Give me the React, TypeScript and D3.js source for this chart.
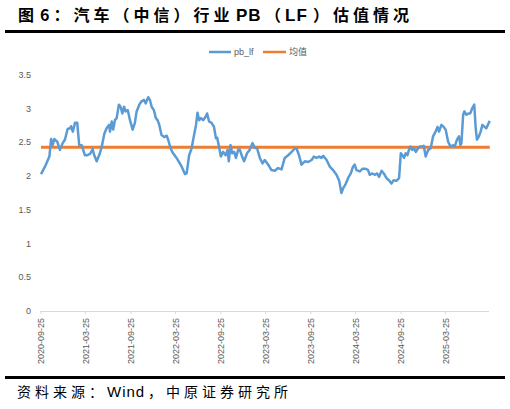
import * as d3 from 'd3';

// pb_lf readings (dates approximate)
const dates: string[] = [
  '2020-09-25', '2020-10-11', '2020-10-29', '2020-11-05', '2020-11-11', '2020-11-18', '2020-11-30', '2020-12-11',
  '2020-12-22', '2020-12-31', '2021-01-11', '2021-01-21', '2021-01-25', '2021-02-01', '2021-02-10', '2021-02-19',
  '2021-02-27', '2021-03-09', '2021-03-22', '2021-04-01', '2021-04-12', '2021-04-23', '2021-04-29', '2021-05-09',
  '2021-05-22', '2021-05-29', '2021-06-09', '2021-06-18', '2021-06-28', '2021-07-02', '2021-07-09', '2021-07-15',
  '2021-07-22', '2021-07-29', '2021-08-07', '2021-08-14', '2021-08-21', '2021-08-28', '2021-09-03', '2021-09-12',
  '2021-09-21', '2021-10-02', '2021-10-11', '2021-10-18', '2021-10-29', '2021-11-07', '2021-11-17', '2021-11-24',
  '2021-12-04', '2021-12-11', '2021-12-18', '2021-12-27', '2022-01-04', '2022-01-11', '2022-01-18', '2022-01-27',
  '2022-02-07', '2022-02-17', '2022-02-23', '2022-03-05', '2022-03-13', '2022-03-29', '2022-04-19', '2022-05-02',
  '2022-05-09', '2022-05-19', '2022-05-29', '2022-06-07', '2022-06-16', '2022-06-22', '2022-06-29', '2022-07-06',
  '2022-07-15', '2022-07-25', '2022-07-31', '2022-08-08', '2022-08-18', '2022-08-28', '2022-09-05', '2022-09-10',
  '2022-09-17', '2022-09-25', '2022-10-04', '2022-10-14', '2022-10-22', '2022-10-27', '2022-11-03', '2022-11-10',
  '2022-11-18', '2022-11-25', '2022-12-04', '2022-12-11', '2022-12-20', '2022-12-28', '2023-01-09', '2023-01-20',
  '2023-01-31', '2023-02-10', '2023-02-19', '2023-03-02', '2023-03-13', '2023-03-22', '2023-04-05', '2023-04-18',
  '2023-05-02', '2023-05-15', '2023-05-29', '2023-06-11', '2023-06-25', '2023-07-09', '2023-07-22', '2023-07-29',
  '2023-08-08', '2023-08-18', '2023-09-01', '2023-09-14', '2023-09-28', '2023-10-07', '2023-10-18', '2023-10-29',
  '2023-11-07', '2023-11-14', '2023-11-28', '2023-12-11', '2023-12-24', '2024-01-07', '2024-01-18', '2024-01-27',
  '2024-02-03', '2024-02-14', '2024-02-23', '2024-03-05', '2024-03-14', '2024-03-21', '2024-03-28', '2024-04-11',
  '2024-04-22', '2024-05-05', '2024-05-14', '2024-05-21', '2024-06-01', '2024-06-10', '2024-06-20', '2024-06-28',
  '2024-07-08', '2024-07-17', '2024-07-28', '2024-08-07', '2024-08-17', '2024-08-26', '2024-09-06', '2024-09-17',
  '2024-09-24', '2024-10-01', '2024-10-07', '2024-10-14', '2024-10-21', '2024-10-27', '2024-11-02', '2024-11-09',
  '2024-11-16', '2024-11-24', '2024-12-03', '2024-12-10', '2024-12-19', '2024-12-26', '2025-01-03', '2025-01-13',
  '2025-01-23', '2025-02-02', '2025-02-12', '2025-02-20', '2025-02-26', '2025-03-08', '2025-03-17', '2025-03-25',
  '2025-04-04', '2025-04-11', '2025-04-17', '2025-04-24', '2025-05-01', '2025-05-10', '2025-05-18', '2025-05-24',
  '2025-05-28', '2025-06-04', '2025-06-09', '2025-06-17', '2025-06-25', '2025-07-03', '2025-07-11', '2025-07-19',
  '2025-07-25', '2025-07-30', '2025-08-07', '2025-08-14', '2025-08-21', '2025-08-30', '2025-09-06', '2025-09-16',
  '2025-09-20',
];

const pbLf: number[] = [
  2.03, 2.14, 2.29, 2.55, 2.46, 2.55, 2.51, 2.39,
  2.49, 2.54, 2.70, 2.71, 2.74, 2.66, 2.79, 2.79,
  2.46, 2.46, 2.31, 2.31, 2.33, 2.40, 2.31, 2.22,
  2.34, 2.43, 2.63, 2.71, 2.76, 2.66, 2.81, 2.69,
  2.83, 2.86, 3.06, 3.03, 2.93, 3.03, 2.96, 2.98,
  2.83, 2.69, 2.79, 2.96, 3.06, 3.11, 3.13, 3.08,
  3.17, 3.13, 3.03, 2.98, 2.86, 2.83, 2.76, 2.61,
  2.58, 2.60, 2.54, 2.41, 2.35, 2.27, 2.14, 2.03,
  2.04, 2.31, 2.41, 2.59, 2.76, 2.94, 2.83, 2.86,
  2.83, 2.88, 2.93, 2.81, 2.79, 2.73, 2.56, 2.57,
  2.44, 2.29, 2.36, 2.31, 2.39, 2.22, 2.46, 2.34,
  2.36, 2.27, 2.39, 2.39, 2.29, 2.22, 2.34, 2.39,
  2.49, 2.42, 2.41, 2.27, 2.19, 2.24, 2.17, 2.09,
  2.08, 2.12, 2.10, 2.27, 2.31, 2.36, 2.41, 2.41,
  2.31, 2.17, 2.22, 2.21, 2.24, 2.29, 2.27, 2.29,
  2.27, 2.30, 2.24, 2.14, 2.09, 2.02, 1.93, 1.75,
  1.82, 1.89, 1.97, 2.04, 2.14, 2.17, 2.09, 2.07,
  2.11, 2.11, 2.09, 2.02, 2.04, 2.02, 2.04, 1.99,
  2.08, 2.04, 1.97, 1.94, 1.89, 1.94, 1.93, 1.97,
  2.34, 2.31, 2.27, 2.34, 2.31, 2.39, 2.44, 2.39,
  2.41, 2.36, 2.41, 2.44, 2.44, 2.45, 2.29, 2.39,
  2.41, 2.59, 2.66, 2.73, 2.66, 2.76, 2.73, 2.69,
  2.51, 2.46, 2.44, 2.46, 2.44, 2.54, 2.59, 2.46,
  2.49, 2.91, 2.96, 2.91, 2.93, 2.93, 3.01, 3.06,
  2.71, 2.54, 2.59, 2.66, 2.76, 2.73, 2.71, 2.79,
  2.82,
];

const meanValue = 2.43;
const yTicks: number[] = [0, 0.5, 1, 1.5, 2, 2.5, 3, 3.5];
const xTickLabels: string[] = [
  '2020-09-25', '2021-03-25', '2021-09-25', '2022-03-25', '2022-09-25',
  '2023-03-25', '2023-09-25', '2024-03-25', '2024-09-25', '2025-03-25',
];
const seriesNames: string[] = ['pb_lf', '均值'];

const W = 510;
const H = 409;
const BLUE = '#5B9BD5';
const ORANGE = '#ED7D31';
const CJK = '"Noto Sans CJK SC", "Liberation Sans", sans-serif';
const LATIN = '"Liberation Sans", "Noto Sans CJK SC", sans-serif';

export default function App() {
  const parse = d3.timeParse('%Y-%m-%d');
  const x = d3.scaleTime()
    .domain([parse('2020-09-25') as Date, parse('2025-09-25') as Date])
    .range([41, 491]);
  const y = d3.scaleLinear().domain([0, 3.5]).range([311, 75]);

  const points = dates.map((d, i) => ({ date: parse(d) as Date, v: pbLf[i] }));
  const line = d3.line<{ date: Date; v: number }>()
    .x((d) => x(d.date))
    .y((d) => y(d.v));

  const first = points[0].date;
  const last = points[points.length - 1].date;

  return (
    <svg width={W} height={H} style={{ position: 'absolute', left: 0, top: 0, background: '#fff' }}>
      {/* title */}
      <text y={21} fontFamily={CJK} fontWeight={700} fontSize={16} fill="#000" letterSpacing={4}>
        <tspan x={18}>图</tspan>
        <tspan x={40}>6：汽车（中信）行业</tspan>
        <tspan x={236} fontFamily={LATIN} fontSize={17} letterSpacing={1}>PB</tspan>
        <tspan x={265}>（</tspan>
        <tspan x={285} fontFamily={LATIN} fontSize={17} letterSpacing={1}>LF</tspan>
        <tspan x={313}>）估值情况</tspan>
      </text>
      <rect x={5} y={30} width={500} height={3} fill="#000" />

      {/* legend */}
      <line x1={209} x2={231} y1={52} y2={52} stroke={BLUE} strokeWidth={2.5} />
      <text x={234} y={55} fontFamily={LATIN} fontSize={9} fill="#595959">{seriesNames[0]}</text>
      <line x1={263} x2={286} y1={52} y2={52} stroke={ORANGE} strokeWidth={2.5} />
      <text x={289} y={55} fontFamily={CJK} fontSize={9} fill="#595959">{seriesNames[1]}</text>

      {/* y axis labels */}
      {yTicks.map((t) => (
        <text key={t} x={31} y={y(t) + 3} textAnchor="end" fontFamily={LATIN} fontSize={9} fill="#595959">{t}</text>
      ))}

      {/* x axis */}
      <line x1={40} x2={489} y1={311.5} y2={311.5} stroke="#D9D9D9" strokeWidth={1} />
      {xTickLabels.map((s) => {
        const px = x(parse(s) as Date);
        return (
          <g key={s}>
            <line x1={px} x2={px} y1={311.5} y2={314} stroke="#D9D9D9" />
            <text transform={`translate(${px + 3},${318}) rotate(-90)`} textAnchor="end"
              fontFamily={LATIN} fontSize={9} fill="#595959">{s}</text>
          </g>
        );
      })}

      {/* mean line */}
      <line x1={x(first)} x2={x(last)} y1={y(meanValue)} y2={y(meanValue)} stroke={ORANGE} strokeWidth={3} />

      {/* pb_lf series */}
      <path d={line(points) as string} fill="none" stroke={BLUE} strokeWidth={2.5} strokeLinejoin="round" />

      {/* footer */}
      <rect x={5} y={376} width={500} height={3} fill="#000" />
      <text y={397} fontFamily={CJK} fontSize={14} fill="#000">
        <tspan x={17} letterSpacing={4}>资料来源：</tspan>
        <tspan x={107} fontFamily={LATIN} fontSize={15} letterSpacing={1}>Wind</tspan>
        <tspan x={148} letterSpacing={4}>，中原证券研究所</tspan>
      </text>
    </svg>
  );
}
